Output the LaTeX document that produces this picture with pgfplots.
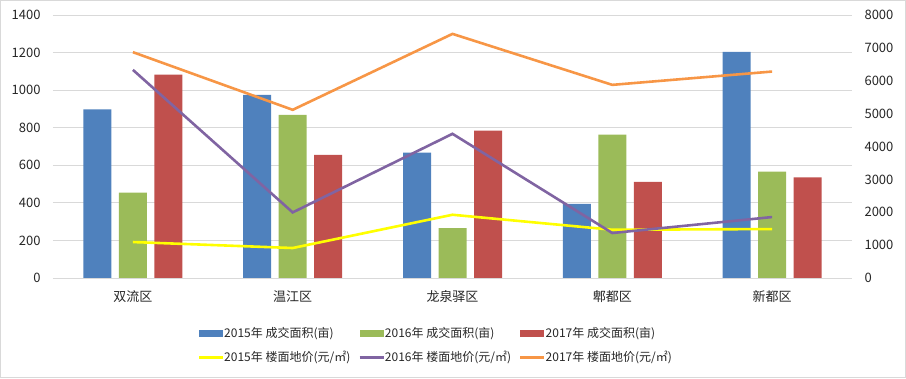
\documentclass[border=0pt]{standalone}
\usepackage{pgfplots}
\pgfplotsset{compat=1.18}
\usepackage{fontspec}
\setmainfont{Noto Sans CJK SC}
\definecolor{cblue}{HTML}{4F81BD}
\definecolor{cgreen}{HTML}{9BBB59}
\definecolor{cred}{HTML}{C0504D}
\definecolor{cyellow}{HTML}{FFFF00}
\definecolor{cpurple}{HTML}{8064A2}
\definecolor{corange}{HTML}{F79646}
\definecolor{cgrid}{HTML}{D9D9D9}
\definecolor{ctext}{HTML}{262626}
\pgfplotsset{
  barlegend/.style={legend image code/.code={\fill[##1] (0pt,-3.5pt) rectangle (24pt,3.5pt);}},
  linelegend/.style={legend image code/.code={\draw[##1] (0pt,0pt) -- (24pt,0pt);}},
}
\begin{document}
\begin{tikzpicture}[font=\fontsize{13pt}{16pt}\selectfont, text=ctext]
\useasboundingbox (0,0) rectangle (906pt,378pt);
\draw[cgrid, line width=0.8pt] (0.5pt,0.5pt) rectangle (905.5pt,377.5pt);
\begin{axis}[
  at={(53pt,100pt)}, anchor=south west, scale only axis,
  width=799pt, height=263pt,
  xmin=-0.5, xmax=4.5, ymin=0, ymax=1400,
  axis line style={draw=none},
  ymajorgrids, grid style={cgrid, line width=0.8pt},
  ytick distance=200,
  xtick={0,1,2,3,4},
  xticklabels={双流区,温江区,龙泉驿区,郫都区,新都区},
  major tick length=0pt,
  ybar=7.5pt, bar width=28pt,
  yticklabel style={/pgf/number format/assume math mode=true, /pgf/number format/1000 sep={}, xshift=-9pt},
  xticklabel style={yshift=-9pt},
]
\addplot[draw=none, fill=cblue] coordinates {(0,897) (1,975) (2,667) (3,395) (4,1204)};
\addplot[draw=none, fill=cgreen] coordinates {(0,454) (1,869) (2,266) (3,763) (4,566)};
\addplot[draw=none, fill=cred] coordinates {(0,1082) (1,656) (2,784) (3,512) (4,535)};
\end{axis}
\begin{axis}[
  at={(53pt,100pt)}, anchor=south west, scale only axis,
  width=799pt, height=263pt,
  xmin=-0.5, xmax=4.5, ymin=0, ymax=8000,
  axis y line*=right, axis x line=none,
  axis line style={draw=none},
  ytick distance=1000,
  major tick length=0pt,
  yticklabel style={/pgf/number format/assume math mode=true, /pgf/number format/1000 sep={}, xshift=9pt},
  legend columns=3,
  legend cell align=left,
  legend style={draw=none, fill=none, at={(0.479,-0.18)}, anchor=north,
    /tikz/every even column/.append style={column sep=6pt},
    /tikz/every odd column/.append style={column sep=-2pt},
    row sep=8pt, inner sep=0pt,
    font=\fontsize{12pt}{15pt}\selectfont},
]
\addlegendimage{barlegend, fill=cblue, draw=none}
\addlegendentry{2015年 成交面积(亩)}
\addlegendimage{barlegend, fill=cgreen, draw=none}
\addlegendentry{2016年 成交面积(亩)}
\addlegendimage{barlegend, fill=cred, draw=none}
\addlegendentry{2017年 成交面积(亩)}
\addplot[linelegend, cyellow, line width=2.6pt, mark=none] coordinates {(0,1094) (1,912) (2,1924) (3,1468) (4,1489)};
\addlegendentry{2015年 楼面地价(元/㎡)}
\addplot[linelegend, cpurple, line width=2.6pt, mark=none] coordinates {(0,6331) (1,1995) (2,4386) (3,1368) (4,1854)};
\addlegendentry{2016年 楼面地价(元/㎡)}
\addplot[linelegend, corange, line width=2.6pt, mark=none] coordinates {(0,6870) (1,5116) (2,7426) (3,5875) (4,6280)};
\addlegendentry{2017年 楼面地价(元/㎡)}
\end{axis}
\end{tikzpicture}
\end{document}
